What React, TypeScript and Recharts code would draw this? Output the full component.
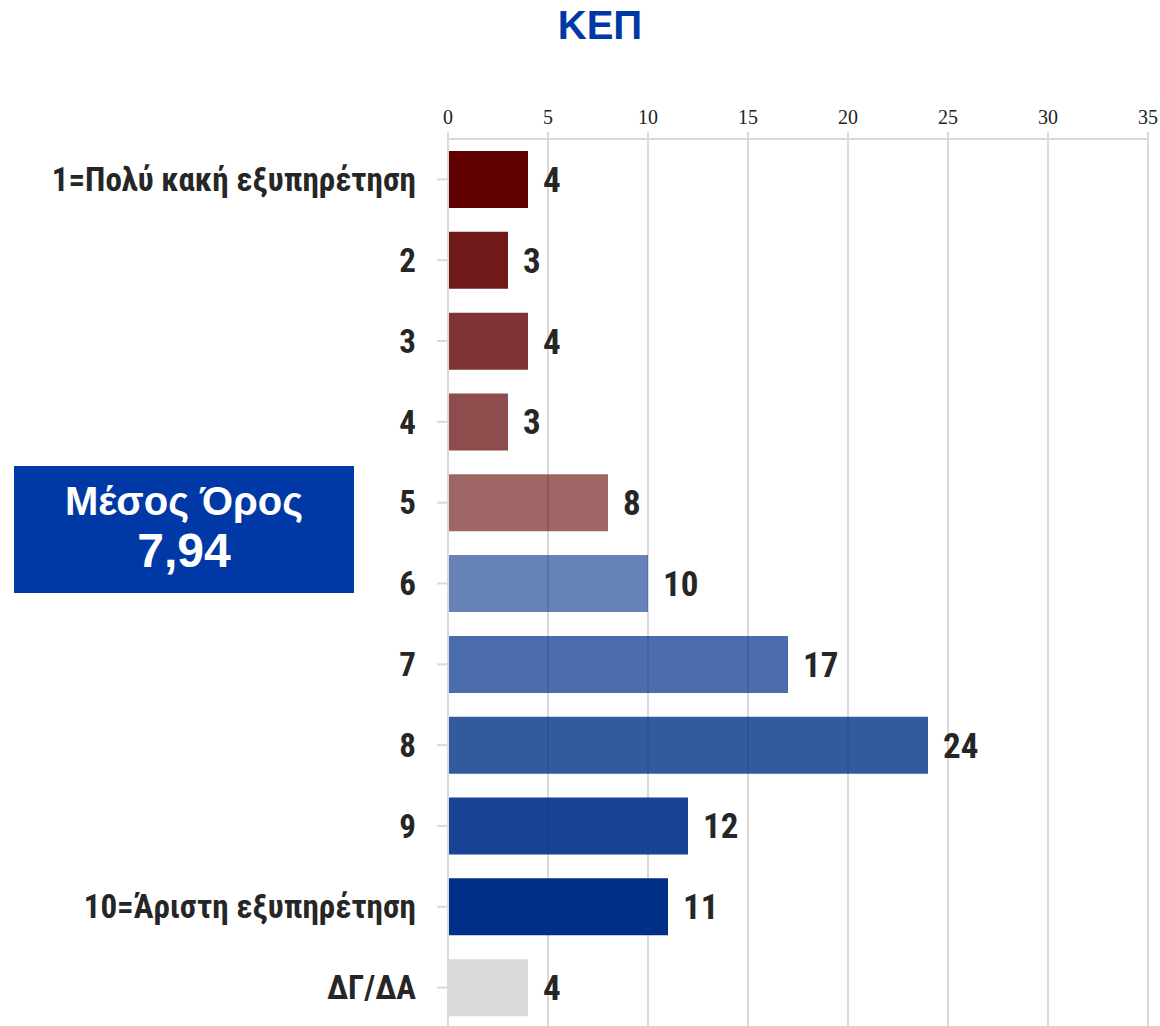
import { BarChart, Bar, XAxis, YAxis, CartesianGrid, Cell, LabelList } from 'recharts'

const categories = [
  '1=Πολύ κακή εξυπηρέτηση',
  '2',
  '3',
  '4',
  '5',
  '6',
  '7',
  '8',
  '9',
  '10=Άριστη εξυπηρέτηση',
  'ΔΓ/ΔΑ',
]
const values = [4, 3, 4, 3, 8, 10, 17, 24, 12, 11, 4]
const barColors = ['#600000', '#600000', '#600000', '#600000', '#600000', '#002f87', '#002f87', '#002f87', '#002f87', '#002f87', '#d9d9d9']
const barOpacity = [1, 0.9, 0.8, 0.7, 0.6, 0.6, 0.7, 0.8, 0.9, 1, 1]
const xTicks = [0, 5, 10, 15, 20, 25, 30, 35]
const meanLabel = 'Μέσος Όρος'
const meanValue = '7,94'

const data = categories.map((name, i) => ({ name, value: values[i] }))

const narrow = '"Liberation Sans Narrow", "Roboto Condensed", "Arial Narrow", sans-serif'
const sans = '"Liberation Sans", Arial, sans-serif'

export default function App() {
  return (
    <div style={{ position: 'absolute', left: 0, top: 0, width: 1160, height: 1026 }}>
      <div
        style={{
          position: 'absolute',
          left: 0,
          width: 1200,
          top: 2,
          textAlign: 'center',
          fontFamily: sans,
          fontWeight: 'bold',
          fontSize: 40,
          color: '#0039a6',
          lineHeight: '46px',
        }}
      >
        ΚΕΠ
      </div>
      <BarChart
        width={1160}
        height={1028}
        data={data}
        layout="vertical"
        margin={{ top: 109, right: 12, bottom: 0, left: 0 }}
        barCategoryGap={0}
      >
        <CartesianGrid horizontal={false} stroke="#d9d9d9" strokeWidth={2} />
        <XAxis
          type="number"
          orientation="top"
          height={30}
          domain={[0, 35]}
          ticks={xTicks}
          interval={0}
          tickSize={7}
          tickMargin={8}
          stroke="#d9d9d9"
          strokeWidth={2}
          tick={{ fill: '#222', fontSize: 20, fontFamily: '"Liberation Serif", "DejaVu Serif", serif' }}
        />
        <YAxis
          type="category"
          dataKey="name"
          width={448}
          tickSize={11}
          tickMargin={21}
          stroke="#d9d9d9"
          strokeWidth={2}
          interval={0}
          tick={{ fill: '#262626', fontSize: 33, fontWeight: 'bold', fontFamily: narrow }}
        />
        <Bar dataKey="value" barSize={57} isAnimationActive={false}>
          {data.map((d, i) => (
            <Cell key={d.name} fill={barColors[i]} fillOpacity={barOpacity[i]} />
          ))}
          <LabelList
            dataKey="value"
            position="right"
            offset={15}
            fill="#262626"
            fontSize={35}
            fontWeight="bold"
            fontFamily={narrow}
          />
        </Bar>
      </BarChart>
      <div
        style={{
          position: 'absolute',
          left: 14,
          top: 466,
          width: 340,
          height: 127,
          background: '#0039a6',
          color: '#fff',
          fontFamily: sans,
          fontWeight: 'bold',
          textAlign: 'center',
        }}
      >
        <div style={{ fontSize: 40, lineHeight: '44px', marginTop: 13 }}>{meanLabel}</div>
        <div style={{ fontSize: 48, lineHeight: '56px' }}>{meanValue}</div>
      </div>
    </div>
  )
}
